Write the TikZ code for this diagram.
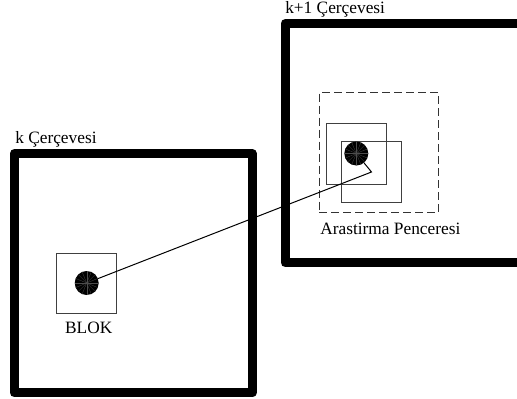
\documentclass[tikz,border=0pt]{standalone}
\usepackage{fontspec}
\setmainfont{Liberation Serif}
\newfontfamily\tnr{Liberation Serif}
\begin{document}
\begin{tikzpicture}[x=0.75pt,y=-0.75pt,
  frame/.style={draw=black,line width=6.75pt,line join=round,minimum width=178.5pt,minimum height=179.6pt,inner sep=0pt},
  blk/.style={draw=black!75,line width=0.75pt,minimum size=45pt,inner sep=0pt},
  win/.style={draw=black!80,line width=0.75pt,dash pattern=on 6pt off 3pt,minimum width=89.5pt,minimum height=90pt,inner sep=0pt},
  dot/.style={circle,fill=black,minimum size=18pt,inner sep=0pt,
    path picture={\foreach \a in {0,22.5,...,337.5}
      \draw[black!70,line width=0.2pt] (path picture bounding box.center) -- ++(\a:9pt);}},
  lbl/.style={inner sep=0pt,font=\tnr\fontsize{13pt}{15pt}\selectfont}
]
\clip (0,0) rectangle (517,399);
\useasboundingbox (0,0) rectangle (517,399);
\node[frame] (f1) at (133.25,273.25) {};
\node[frame] (f2) at (404,143.25) {};
\node[lbl,anchor=base west] (t1) at (15,143) {k Çerçevesi};
\node[lbl,anchor=base west] (t2) at (285,14) {k+1 Çerçevesi};
\node[blk] (b) at (86.7,283) {};
\node[lbl,anchor=base] (tb) at (88.7,333) {BLOK};
\node[win] (w) at (378.8,152.3) {};
\node[lbl,anchor=base] (tw) at (390.3,234) {Arastirma Penceresi};
\node[blk] (s1) at (356.3,154) {};
\node[blk] (s2) at (371.5,172) {};
\node[dot] (c1) at (86.7,283) {};
\node[dot] (c2) at (356.3,153.5) {};
\draw[line width=0.75pt] (c1) -- (s2.center) -- (c2);
\end{tikzpicture}
\end{document}
